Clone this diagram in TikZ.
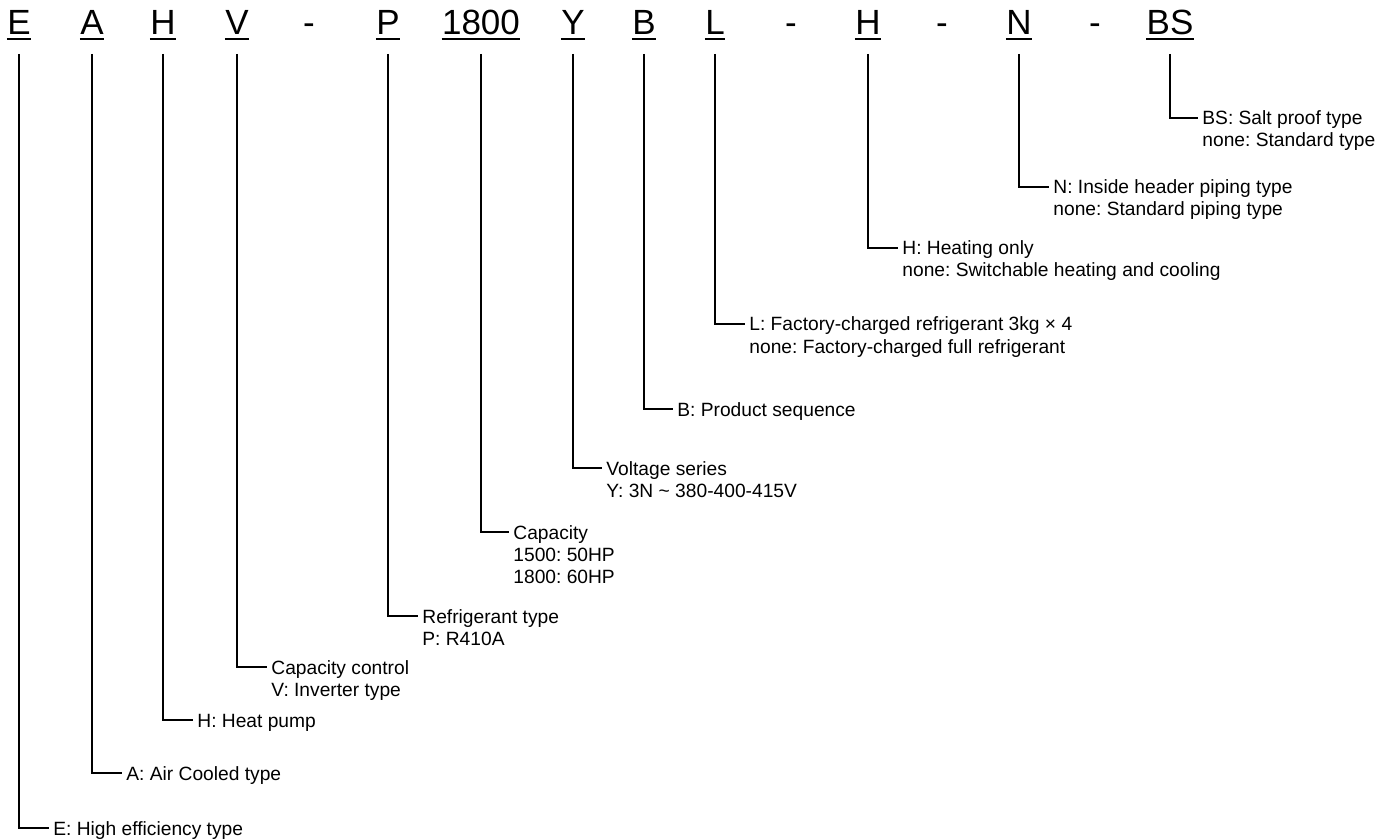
\documentclass[tikz,border=0pt]{standalone}
\usepackage{fontspec}
\setmainfont{Liberation Sans}
\frenchspacing
\begin{document}
\begin{tikzpicture}[x=0.5pt,y=-0.5pt,
  code/.style={inner sep=0pt, anchor=base, font=\fontsize{17.5pt}{21pt}\selectfont},
  desc/.style={inner sep=0pt, anchor=base west, font=\fontsize{9.6pt}{11pt}\selectfont\frenchspacing},
  conn/.style={line width=1.45pt},
  uline/.style={line width=1pt}]
\useasboundingbox (0,0) rectangle (1385,839);
% code letters
\node[code] (cE) at (19,35) {E};
\node[code] (cA) at (92,35) {A};
\node[code] (cH) at (163,35) {H};
\node[code] (cV) at (237,35) {V};
\node[code] (dA) at (309,35) {-};
\node[code] (cP) at (388,35) {P};
\node[code] (cC) at (481,35) {1800};
\node[code] (cY) at (573,35) {Y};
\node[code] (cB) at (644,35) {B};
\node[code] (cL) at (715,35) {L};
\node[code] (dB) at (791,35) {-};
\node[code] (cH2) at (868,35) {H};
\node[code] (dC) at (942,35) {-};
\node[code] (cN) at (1019,35) {N};
\node[code] (dD) at (1095,35) {-};
\node[code] (cBS) at (1170,35) {BS};
\foreach \n in {cE,cA,cH,cV,cP,cC,cY,cB,cL,cH2,cN,cBS}
  \draw[uline] ([yshift=-2.25pt]\n.base west) -- ([yshift=-2.25pt]\n.base east);
% descriptions
\node[desc] (lE) at (53,835) {\begin{tabular}[t]{@{}l@{}}E: High efficiency type\end{tabular}};
\node[desc] (lA) at (126,780) {\begin{tabular}[t]{@{}l@{}}A: Air Cooled type\end{tabular}};
\node[desc] (lH) at (197,727) {\begin{tabular}[t]{@{}l@{}}H: Heat pump\end{tabular}};
\node[desc] (lV) at (271,674) {\begin{tabular}[t]{@{}l@{}}Capacity control\\V: Inverter type\end{tabular}};
\node[desc] (lP) at (422,623) {\begin{tabular}[t]{@{}l@{}}Refrigerant type\\P: R410A\end{tabular}};
\node[desc] (lC) at (513,539) {\begin{tabular}[t]{@{}l@{}}Capacity\\1500: 50HP\\1800: 60HP\end{tabular}};
\node[desc] (lY) at (606,475) {\begin{tabular}[t]{@{}l@{}}Voltage series\\Y: 3N \textasciitilde{} 380-400-415V\end{tabular}};
\node[desc] (lB) at (677,416) {\begin{tabular}[t]{@{}l@{}}B: Product sequence\end{tabular}};
\node[desc] (lL) at (749,331) {\begin{tabular}[t]{@{}l@{}}L: Factory-charged refrigerant 3kg × 4\\none: Factory-charged full refrigerant\end{tabular}};
\node[desc] (lH2) at (902,255) {\begin{tabular}[t]{@{}l@{}}H: Heating only\\none: Switchable heating and cooling\end{tabular}};
\node[desc] (lN) at (1053,194) {\begin{tabular}[t]{@{}l@{}}N: Inside header piping type\\none: Standard piping type\end{tabular}};
\node[desc] (lBS) at (1202,125) {\begin{tabular}[t]{@{}l@{}}BS: Salt proof type\\none: Standard type\end{tabular}};
% connectors
\foreach \c/\l in {cE/lE,cA/lA,cH/lH,cV/lV,cP/lP,cC/lC,cY/lY,cB/lB,cL/lL,cH2/lH2,cN/lN,cBS/lBS}
  \draw[conn] ([yshift=-9.5pt]\c.base) |- ([xshift=-2pt,yshift=3.5pt]\l.base west);
\end{tikzpicture}
\end{document}
